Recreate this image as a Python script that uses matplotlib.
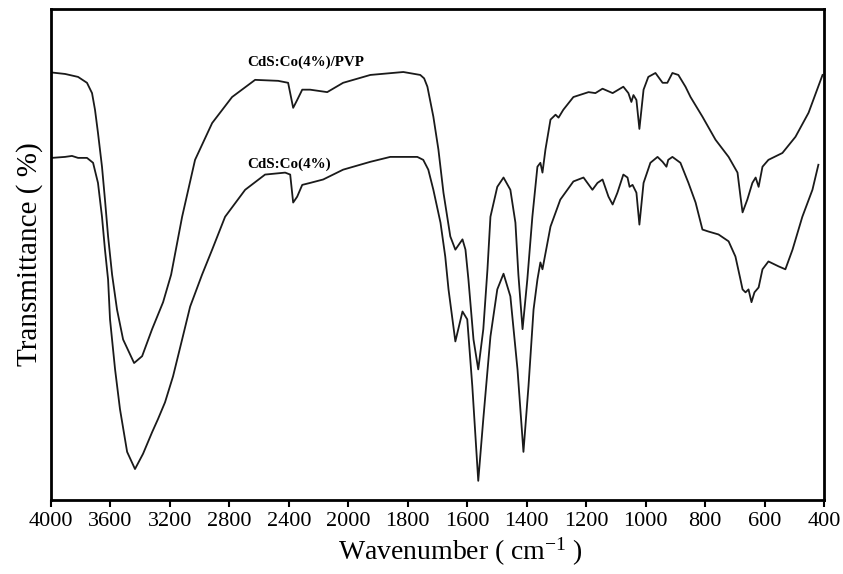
import numpy as np
import matplotlib
matplotlib.use('Agg')
import matplotlib.pyplot as plt
from matplotlib.ticker import FixedLocator, NullLocator

plt.rcParams['font.family'] = ['Liberation Serif', 'DejaVu Serif']
plt.rcParams['mathtext.fontset'] = 'custom'
plt.rcParams['mathtext.rm'] = 'Liberation Serif'
plt.rcParams['mathtext.it'] = 'Liberation Serif'

# FTIR spectra, wavenumber (cm-1) vs transmittance (arb. %)
wn_pvp = [3995, 3905, 3818, 3758, 3724, 3704, 3684, 3657, 3637, 3616, 3589, 3556, 3515,
          3441, 3387, 3320, 3246, 3192, 3118, 3031, 2916, 2782, 2627, 2472, 2405, 2371,
          2344, 2310, 2257, 2142, 2035, 1926, 1815, 1758, 1745, 1734, 1714, 1697, 1680, 1657,
          1640, 1616, 1606, 1596, 1579, 1563, 1546, 1532, 1522, 1499, 1478, 1455, 1438,
          1428, 1414, 1398, 1381, 1364, 1354, 1347, 1337, 1320, 1303, 1293, 1277, 1243,
          1192, 1169, 1145, 1111, 1075, 1058, 1048, 1041, 1031, 1021, 1007, 991, 967,
          943, 927, 910, 890, 866, 849, 809, 765, 721, 691, 681, 674, 658, 641, 630,
          620, 607, 587, 540, 496, 452, 405]
t_pvp = [87.1, 86.8, 86.2, 85.0, 82.9, 79.5, 74.8, 67.9, 61.2, 53.7, 45.9, 38.8, 32.7,
         27.9, 29.3, 34.8, 40.3, 45.9, 57.7, 69.3, 76.8, 82.1, 85.6, 85.4, 85.0, 79.9,
         81.5, 83.6, 83.6, 83.1, 85.0, 86.6, 87.2, 86.6, 85.9, 84.2, 78.1, 71.4, 62.6, 53.7,
         51.0, 53.1, 51.0, 44.9, 32.7, 26.6, 34.8, 47.0, 57.7, 63.8, 65.7, 63.2, 56.5,
         45.9, 34.8, 44.9, 57.7, 67.9, 68.7, 66.7, 71.4, 77.5, 78.5, 77.9, 79.5, 82.1,
         83.1, 82.9, 83.8, 82.9, 84.2, 82.9, 81.1, 82.5, 81.5, 75.6, 83.6, 86.2, 87.0,
         85.0, 85.0, 87.0, 86.6, 84.2, 82.1, 78.1, 73.4, 69.9, 66.7, 61.8, 58.6, 61.2,
         64.6, 65.7, 63.8, 67.9, 69.3, 70.7, 74.0, 78.9, 86.6]

wn_co = [3995, 3906, 3859, 3818, 3758, 3717, 3684, 3657, 3637, 3616, 3603, 3569, 3536,
         3488, 3435, 3381, 3320, 3280, 3233, 3179, 3118, 3064, 2984, 2916, 2829, 2694,
         2560, 2425, 2391, 2371, 2344, 2310, 2257, 2169, 2035, 1926, 1859, 1768, 1748,
         1731, 1714, 1690, 1674, 1663, 1640, 1616, 1600, 1583, 1563, 1546, 1522, 1499,
         1478, 1455, 1431, 1411, 1394, 1377, 1364, 1354, 1347, 1320, 1287, 1243, 1209,
         1179, 1162, 1145, 1125, 1111, 1095, 1075, 1061, 1054, 1044, 1031, 1021, 1007,
         984, 960, 943, 930, 924, 910, 883, 856, 832, 809, 789, 755, 721, 698, 681,
         674, 664, 654, 644, 634, 620, 607, 587, 553, 530, 506, 473, 439, 419]
t_co = [69.7, 69.9, 70.1, 69.7, 69.7, 68.7, 64.6, 57.7, 51.0, 44.9, 36.8, 26.6, 18.5,
        9.8, 6.3, 9.4, 13.8, 16.5, 19.9, 25.2, 32.7, 39.4, 45.9, 51.0, 57.7, 63.2,
        66.3, 66.7, 66.3, 60.6, 61.8, 64.2, 64.6, 65.3, 67.3, 68.9, 69.9, 69.9, 69.3,
        67.3, 63.2, 56.5, 49.6, 42.9, 32.3, 38.4, 36.8, 23.2, 3.9, 16.5, 33.3, 42.9,
        46.1, 41.5, 26.6, 9.8, 23.2, 38.8, 44.9, 48.4, 47.0, 55.7, 61.2, 64.9, 65.7,
        63.2, 64.6, 65.3, 61.8, 60.2, 62.6, 66.3, 65.7, 63.8, 64.2, 62.6, 56.1, 64.6,
        68.7, 69.9, 68.9, 67.9, 69.3, 69.9, 68.7, 64.6, 60.6, 55.1, 54.7, 54.1, 52.7,
        49.6, 44.9, 42.9, 42.3, 42.9, 40.3, 42.3, 43.3, 47.0, 48.6, 47.6, 47.0, 51.0,
        57.7, 63.2, 68.3]

tick_values = [4000, 3600, 3200, 2800, 2400, 2000, 1800, 1600, 1400, 1200, 1000, 800, 600, 400]


# axis is compressed by half above 2000 cm-1
def fwd(x):
    x = np.asarray(x, dtype=float)
    return np.where(x > 2000, 2000 + (x - 2000) / 2, x)


def inv(y):
    y = np.asarray(y, dtype=float)
    return np.where(y > 2000, 2000 + (y - 2000) * 2, y)


fig = plt.figure(figsize=(8.43, 5.74), dpi=100)
ax = fig.add_axes([0.0605, 0.129, 0.917, 0.855])

ax.plot(wn_pvp, t_pvp, color='#1a1a1a', lw=1.3)
ax.plot(wn_co, t_co, color='#1a1a1a', lw=1.3)

ax.set_xscale('function', functions=(fwd, inv))
ax.set_xlim(4000, 400)
ax.set_ylim(0, 100)
ax.xaxis.set_major_locator(FixedLocator(tick_values))
ax.xaxis.set_minor_locator(NullLocator())
ax.set_xticklabels([str(v) for v in tick_values])
ax.yaxis.set_major_locator(NullLocator())

ax.tick_params(axis='x', direction='out', length=5, width=1.5, labelsize=16, pad=4)
for s in ax.spines.values():
    s.set_linewidth(2.0)

ax.text(2681, 89.2, 'CdS:Co(4%)/PVP', fontsize=10.8, fontweight='bold', ha='left', va='center')
ax.text(2681, 68.5, 'CdS:Co(4%)', fontsize=10.8, fontweight='bold', ha='left', va='center')

ax.set_xlabel(r'Wavenumber ( cm$^{-1}$ )', fontsize=20)
ax.xaxis.set_label_coords(0.53, -0.072)
ax.set_ylabel('Transmittance ( %)', fontsize=21, labelpad=6)

fig.savefig('out.png', dpi=100)
